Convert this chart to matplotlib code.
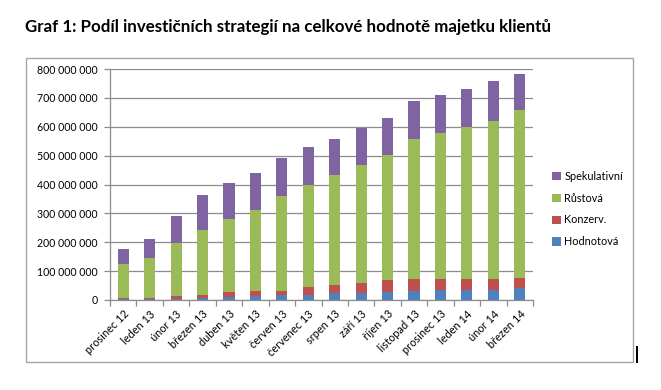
import matplotlib
matplotlib.use("Agg")
import matplotlib.pyplot as plt
from matplotlib.ticker import FuncFormatter, FixedLocator
from matplotlib.patches import Rectangle
import numpy as np

categories = ["prosinec 12", "leden 13", "únor 13", "březen 13", "duben 13", "květen 13",
              "červen 13", "červenec 13", "srpen 13", "září 13", "říjen 13", "listopad 13",
              "prosinec 13", "leden 14", "únor 14", "březen 14"]

# values in millions CZK
hodnotova = [2, 2, 4, 8, 9, 15, 16, 18, 23, 24, 29, 32, 36, 36, 36, 40]
konzerv = [5, 6, 10, 10, 19, 17, 16, 26, 29, 34, 40, 42, 38, 38, 38, 37]
rustova = [118, 138, 183, 224, 251, 279, 328, 356, 381, 408, 434, 484, 505, 524, 547, 581]
spekulativni = [53, 65, 93, 120, 126, 130, 132, 131, 125, 128, 126, 130, 132, 132, 137, 126]

series_names = ["Hodnotová", "Konzerv.", "Růstová", "Spekulativní"]
colors = ["#4F81BD", "#C0504D", "#9BBB59", "#8064A2"]

W, H = 661, 390
fig = plt.figure(figsize=(W / 100, H / 100), dpi=100)
plt.rcParams['font.family'] = ['Lato', 'DejaVu Sans']

# outer chart frame
fig.patches.append(Rectangle((25.7 / W, 1 - 361.7 / H), (633 - 25.7) / W, (361.7 - 57.7) / H,
                             transform=fig.transFigure, fill=False, edgecolor="#A6A6A6", lw=1.0))
# cursor mark
fig.patches.append(Rectangle((636 / W, 1 - 362.5 / H), 2.2 / W, 16.5 / H,
                             transform=fig.transFigure, facecolor="black", edgecolor="none"))

fig.text(25 / W, 1 - 27 / H, "Graf 1: Podíl investičních strategií na celkové hodnotě majetku klientů",
         fontsize=12.2, fontweight="bold", ha="left", va="center", color="black")

ax = fig.add_axes([110 / W, 1 - 300 / H, (533 - 110) / W, (300 - 69) / H])

x = np.arange(len(categories))
scale = 1e6
data = [hodnotova, konzerv, rustova, spekulativni]
bottom = np.zeros(len(categories))
handles = []
for vals, name, c in zip(data, series_names, colors):
    v = np.array(vals) * scale
    h = ax.bar(x, v, width=0.42, bottom=bottom, color=c, label=name, zorder=3)
    handles.append(h)
    bottom += v

ax.set_xlim(-0.5, len(categories) - 0.5)
ax.set_ylim(0, 800e6)
ax.set_yticks(np.arange(0, 800e6 + 1, 100e6))
ax.yaxis.set_major_formatter(FuncFormatter(lambda v, p: f"{int(round(v)):,}".replace(",", " ")))
ax.grid(axis="y", color="#8C8C8C", lw=0.9, zorder=0)
ax.set_axisbelow(True)

ax.set_xticks(x)
ax.set_xticklabels(categories, rotation=45, ha="right", rotation_mode="anchor", fontsize=7.9)
ax.xaxis.set_minor_locator(FixedLocator(np.arange(-0.5, len(categories), 1.0)))
ax.tick_params(axis="x", which="major", length=0, pad=6)
ax.tick_params(axis="x", which="minor", length=4, color="#8C8C8C", width=0.9)
ax.tick_params(axis="y", length=4, color="#8C8C8C", width=0.9, labelsize=7.6, pad=5)

for s in ["top", "right"]:
    ax.spines[s].set_visible(False)
for s in ["left", "bottom"]:
    ax.spines[s].set_color("#8C8C8C")
    ax.spines[s].set_linewidth(0.9)

leg = fig.legend(handles[::-1], series_names[::-1], loc="center left",
                 bbox_to_anchor=(547 / W, 1 - 209 / H), frameon=False, fontsize=7.8,
                 handlelength=0.8, handleheight=0.8, handletextpad=0.3, labelspacing=1.0,
                 borderpad=0)

fig.savefig("out.png", dpi=100, facecolor="white")
